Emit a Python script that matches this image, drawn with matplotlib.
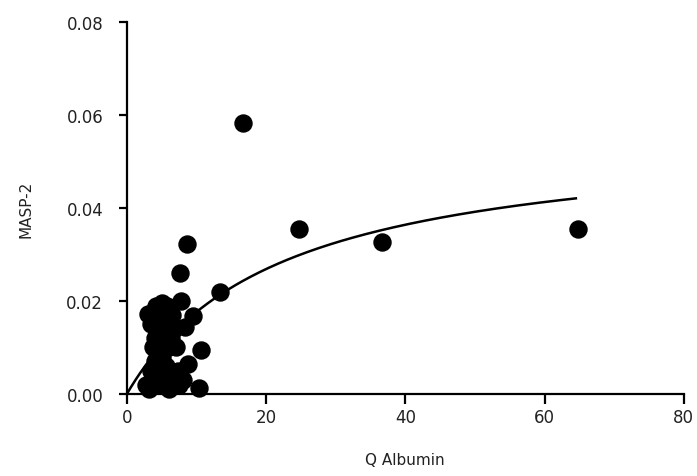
import numpy as np
import matplotlib
matplotlib.use("Agg")
import matplotlib.pyplot as plt

# scatter data (Q Albumin vs MASP-2)
q_alb = [16.7, 24.7, 36.6, 64.8, 8.6, 13.4, 7.6, 10.6, 10.3, 9.5,
         3.0, 4.2, 5.0, 5.8, 4.5, 7.8, 6.5,
         3.5, 4.8, 5.5, 6.8, 8.3, 4.0, 5.2, 6.0, 4.3, 5.0, 7.0, 8.8,
         4.0, 5.6, 3.4, 6.2, 7.3,
         2.8, 3.6, 4.5, 5.3, 6.0, 6.8, 7.5, 4.2, 3.2, 5.8, 8.0,
         4.6, 5.4, 6.3, 3.8, 5.0]
masp2 = [0.0583, 0.0355, 0.0327, 0.0355, 0.0323, 0.0219, 0.026, 0.0095, 0.0013, 0.0168,
         0.0172, 0.019, 0.0195, 0.019, 0.018, 0.020, 0.017,
         0.015, 0.014, 0.013, 0.014, 0.0145, 0.012, 0.011, 0.010, 0.009, 0.008, 0.010, 0.0065,
         0.007, 0.006, 0.005, 0.004, 0.005,
         0.002, 0.003, 0.002, 0.003, 0.001, 0.002, 0.002, 0.004, 0.001, 0.0015, 0.003,
         0.016, 0.0165, 0.012, 0.010, 0.005]

# hyperbolic fit y = vmax*x/(k+x)
vmax = 0.0564
k_half = 22.0
x_fit = np.linspace(0, 64.5, 200)
y_fit = vmax * x_fit / (k_half + x_fit)

fig = plt.figure(figsize=(6.97, 4.77), dpi=100)
ax = fig.add_axes([0.182, 0.172, 0.799, 0.78])

ax.plot(x_fit, y_fit, color="black", lw=1.8, zorder=2)
ax.scatter(q_alb, masp2, s=150, color="black", zorder=3, clip_on=False)

ax.set_xlim(0, 80)
ax.set_ylim(0, 0.08)
ax.set_xticks([0, 20, 40, 60, 80])
ax.set_yticks([0, 0.02, 0.04, 0.06, 0.08])
ax.set_yticklabels(["0.00", "0.02", "0.04", "0.06", "0.08"])

for s in ["top", "right"]:
    ax.spines[s].set_visible(False)
for s in ["left", "bottom"]:
    ax.spines[s].set_linewidth(1.6)
ax.tick_params(axis="x", width=1.6, length=7, labelsize=12, pad=3)
ax.tick_params(axis="y", width=1.6, length=6, labelsize=12, pad=11)
for lbl in ax.get_xticklabels() + ax.get_yticklabels():
    lbl.set_color("#222222")

ax.set_xlabel("Q Albumin", fontsize=11, labelpad=19, color="#222222")
ax.set_ylabel("MASP-2", fontsize=11, labelpad=24, color="#222222")

fig.savefig("out.png", dpi=100)
